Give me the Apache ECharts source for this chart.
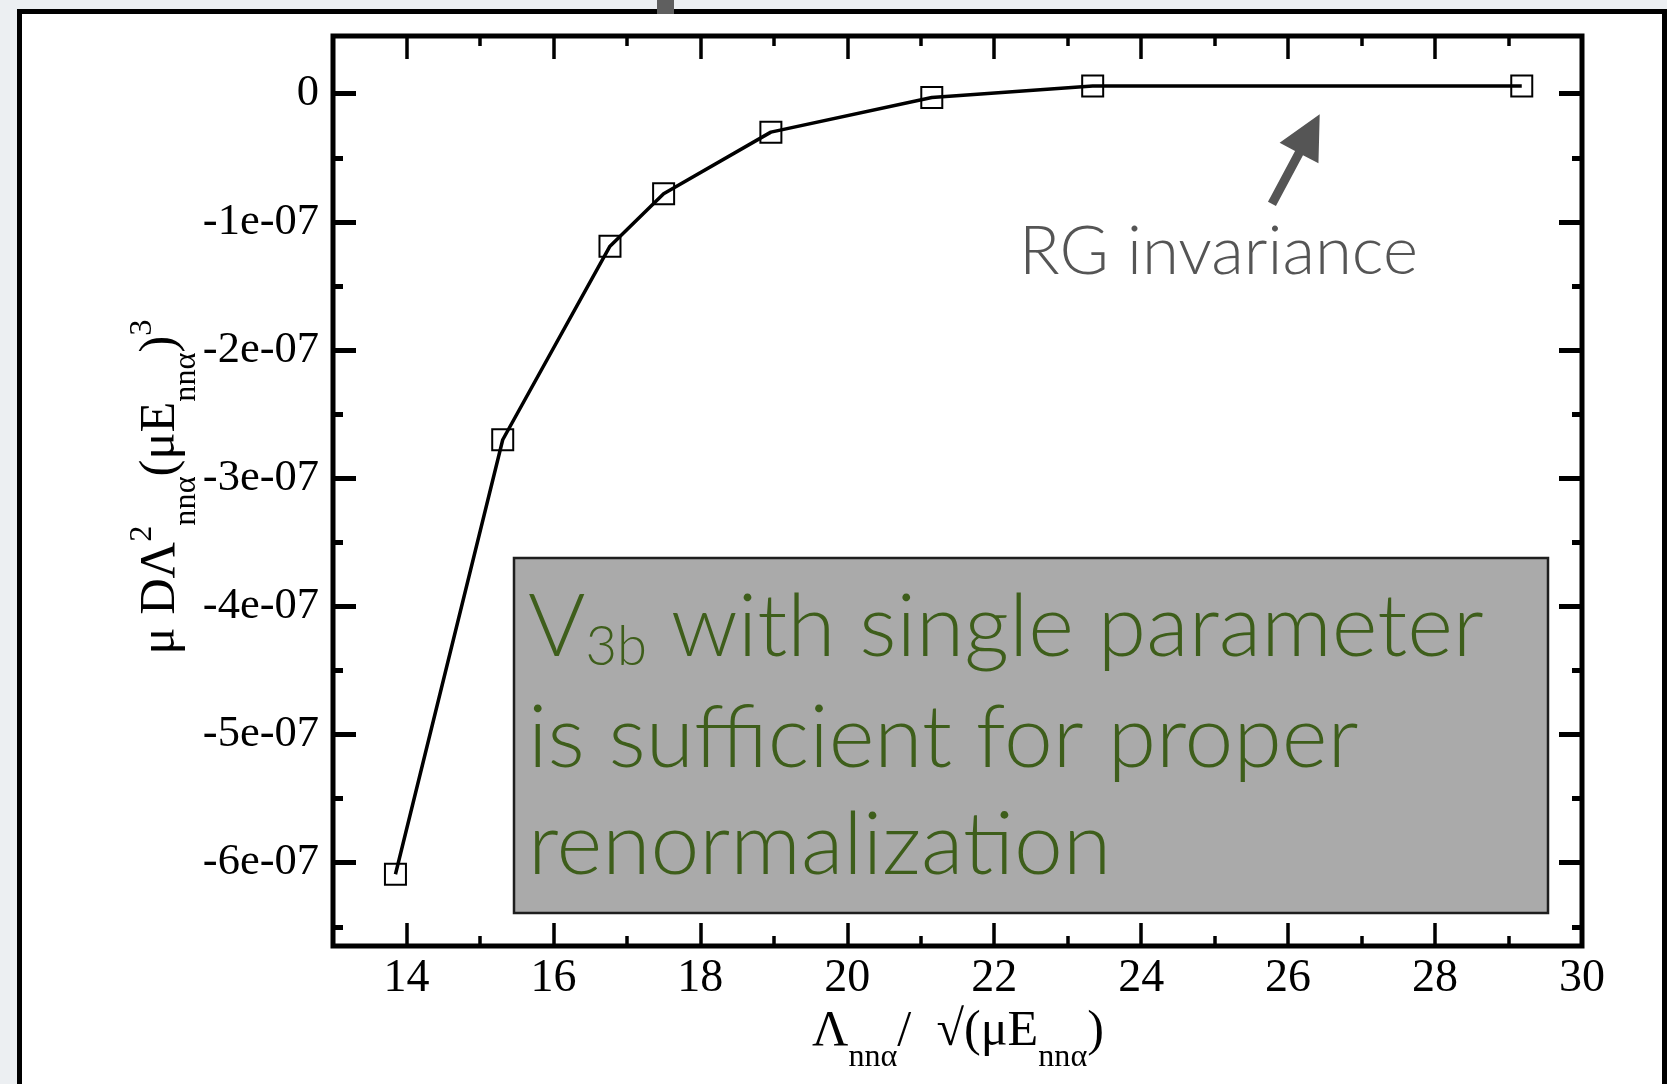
<!DOCTYPE html>
<html>
<head>
<meta charset="utf-8">
<script src="https://cdn.jsdelivr.net/npm/echarts@6/dist/echarts.min.js"></script>
<style>
  html, body { margin: 0; padding: 0; background: #eceff2; }
  #chart { width: 1667px; height: 1084px; }
</style>
</head>
<body>
<div id="chart"></div>
<script>
// Three-body coupling D versus cutoff, in units of the nnα energy
const cutoff = [13.85, 15.31, 16.77, 17.50, 18.96, 21.15, 23.34, 29.18];
const coupling = [-6.09e-7, -2.70e-7, -1.19e-7, -0.78e-7, -0.30e-7, -0.03e-7, 0.06e-7, 0.06e-7];

// Axis ticks and their labels
const xMajorTicks = [14, 16, 18, 20, 22, 24, 26, 28, 30];
const xMinorTicks = [15, 17, 19, 21, 23, 25, 27, 29];
const yMajorTicks = [0, -1e-7, -2e-7, -3e-7, -4e-7, -5e-7, -6e-7];
const yTickLabels = ['0', '-1e-07', '-2e-07', '-3e-07', '-4e-07', '-5e-07', '-6e-07'];
const yMinorTicks = [-0.5e-7, -1.5e-7, -2.5e-7, -3.5e-7, -4.5e-7, -5.5e-7, -6.5e-7];

// Axis titles as runs of text: n = normal, sub = subscript, sup = superscript
const xTitle = [['Λ', 'n'], ['nnα', 'sub'], ['/  √(μE', 'n'], ['nnα', 'sub'], [')', 'n']];
const yTitle = [['μ DΛ', 'n'], ['2', 'sup'], ['nnα', 'sub'], ['(μE', 'n'], ['nnα', 'sub'], [')', 'n'], ['3', 'sup']];

// Annotation: arrow (tail -> tip) in data units, and texts
const arrowTail = [25.78, -0.86e-7];
const arrowTip = [26.43, -0.16e-7];
const noteText = 'RG invariance';
const boxLines = ['V', '3b', ' with single parameter', 'is sufficient for proper', 'renormalization'];

const X_MIN = 13, X_MAX = 30, Y_MIN = -6.65e-7, Y_MAX = 0.45e-7;
const SERIF = '"Liberation Serif", "DejaVu Serif", serif';
const SANS = 'Lato, "Open Sans", sans-serif';
const SANS_W = '300';

const chart = echarts.init(document.getElementById('chart'));

function yLabel(v) {
  for (let i = 0; i < yMajorTicks.length; i++) {
    if (Math.abs(yMajorTicks[i] - v) < 1e-12) return yTickLabels[i];
  }
  return '';
}

function xAxisDef(position, ticks, len, withLabels) {
  return {
    type: 'value', position: position, min: X_MIN, max: X_MAX,
    axisLine: { show: false, onZero: false },
    axisTick: { show: true, inside: true, length: len, customValues: ticks,
      lineStyle: { color: '#000', width: 3.5 } },
    axisLabel: { show: withLabels, customValues: ticks, margin: 10,
      fontFamily: SERIF, fontSize: 46, color: '#000' },
    splitLine: { show: false }
  };
}
function yAxisDef(position, ticks, len, withLabels) {
  return {
    type: 'value', position: position, min: Y_MIN, max: Y_MAX,
    axisLine: { show: false, onZero: false },
    axisTick: { show: true, inside: true, length: len, customValues: ticks,
      lineStyle: { color: '#000', width: 5 } },
    axisLabel: { show: withLabels, customValues: ticks, margin: 14,
      fontFamily: SERIF, fontSize: 44.5, color: '#000', formatter: yLabel },
    splitLine: { show: false }
  };
}

chart.setOption({
  backgroundColor: '#eceff2',
  animation: false,
  grid: { left: 333, right: 85, top: 36, bottom: 138, show: true,
    borderColor: '#000', borderWidth: 5, backgroundColor: 'transparent', z: 3 },
  xAxis: [
    xAxisDef('bottom', xMajorTicks, 23, true),
    xAxisDef('bottom', xMinorTicks, 10, false),
    xAxisDef('top', xMajorTicks, 23, false),
    xAxisDef('top', xMinorTicks, 10, false)
  ],
  yAxis: [
    yAxisDef('left', yMajorTicks, 23, true),
    yAxisDef('left', yMinorTicks, 10, false),
    yAxisDef('right', yMajorTicks, 23, false),
    yAxisDef('right', yMinorTicks, 10, false)
  ],
  series: [{
    type: 'line',
    data: cutoff.map((x, i) => [x, coupling[i]]),
    symbol: 'rect', symbolSize: 21,
    lineStyle: { color: '#000', width: 3.5 },
    itemStyle: { color: 'rgba(0,0,0,0)', borderColor: '#000', borderWidth: 2 },
    z: 5
  }]
});

// Text measuring, used to lay out mixed-size runs
const ctx = document.createElement('canvas').getContext('2d');
function fontOf(size, family, weight) {
  return (weight ? weight + ' ' : '') + size + 'px ' + family;
}
function measure(text, size, family, weight) {
  ctx.font = fontOf(size, family || SANS, family ? weight : SANS_W);
  return ctx.measureText(text).width;
}
// Text element placed by its baseline
function txt(x, baseline, text, size, color, family, z) {
  const font = family ? fontOf(size, family) : fontOf(size, SANS, SANS_W);
  return { type: 'text', z: z || 20, style: { x: x, y: baseline - size * 0.33, text: text,
    font: font, fill: color, verticalAlign: 'middle', align: 'left' } };
}

// Axis title: runs laid out centred on the origin, baseline at y = 0, fitted to a width
function titleRuns(runs, width) {
  const unit = 50, subR = 0.64;
  const sizeOf = (kind, m) => kind === 'n' ? m : m * subR;
  let w = 0;
  runs.forEach(r => { w += measure(r[0], sizeOf(r[1], unit), SERIF); });
  const main = unit * width / w;
  const shift = { n: 0, sub: main * 0.40, sup: -main * 0.48 };
  let x = -width / 2;
  const out = [];
  runs.forEach(r => {
    const s = sizeOf(r[1], main);
    out.push(txt(x, shift[r[1]], r[0], s, '#000', SERIF));
    x += measure(r[0], s, SERIF);
  });
  return out;
}

// Note label and arrow
const noteSize = 64 * 399 / measure(noteText, 64);
const tip = chart.convertToPixel({ xAxisIndex: 0, yAxisIndex: 0 }, arrowTip);
const tail = chart.convertToPixel({ xAxisIndex: 0, yAxisIndex: 0 }, arrowTail);
const dx = tip[0] - tail[0], dy = tip[1] - tail[1];
const L = Math.hypot(dx, dy), ux = dx / L, uy = dy / L, nx = -uy, ny = ux;
const headLen = 44, headHalf = 22, shaftHalf = 4.5;
const bx = tip[0] - ux * headLen, by = tip[1] - uy * headLen;
const arrowPts = [
  [tail[0] + nx * shaftHalf, tail[1] + ny * shaftHalf],
  [bx + nx * shaftHalf, by + ny * shaftHalf],
  [bx + nx * headHalf, by + ny * headHalf],
  [tip[0], tip[1]],
  [bx - nx * headHalf, by - ny * headHalf],
  [bx - nx * shaftHalf, by - ny * shaftHalf],
  [tail[0] - nx * shaftHalf, tail[1] - ny * shaftHalf]
];

// Boxed statement: size fitted to the widths of its three lines
const unit = 80;
const w1 = measure(boxLines[0] + boxLines[2], unit) + measure(boxLines[1], unit * 0.6);
const w2 = measure(boxLines[3], unit);
const w3 = measure(boxLines[4], unit);
const boxSize = unit * (954 + 829 + 585) / (w1 + w2 + w3);
const subSize = boxSize * 0.62;
const green = '#3e5e1b';
const vW = measure(boxLines[0], boxSize);
const subW = measure(boxLines[1], subSize);

chart.setOption({
  graphic: [
    // panel frame
    { type: 'rect', z: -10, shape: { x: 19.5, y: 11.5, width: 1645, height: 1120 },
      style: { fill: '#fff', stroke: '#000', lineWidth: 5 } },
    { type: 'rect', z: -5, shape: { x: 657, y: 0, width: 17, height: 14 },
      style: { fill: '#5f5f5f' } },
    // axis titles
    { type: 'group', x: 958, y: 1048, children: titleRuns(xTitle, 292) },
    { type: 'group', x: 177, y: 487, rotation: Math.PI / 2, children: titleRuns(yTitle, 335) },
    // annotation
    { type: 'polygon', z: 20, shape: { points: arrowPts }, style: { fill: '#555' } },
    txt(1019, 275, noteText, noteSize, '#555'),
    { type: 'rect', z: 15, shape: { x: 514, y: 558, width: 1034, height: 355 },
      style: { fill: '#aaaaaa', stroke: '#1e1e1e', lineWidth: 2.5 } },
    txt(528, 657, boxLines[0], boxSize, green),
    txt(528 + vW, 665, boxLines[1], subSize, green),
    txt(528 + vW + subW, 657, boxLines[2], boxSize, green),
    txt(528, 768, boxLines[3], boxSize, green),
    txt(528, 875, boxLines[4], boxSize, green)
  ]
});
</script>
</body>
</html>
